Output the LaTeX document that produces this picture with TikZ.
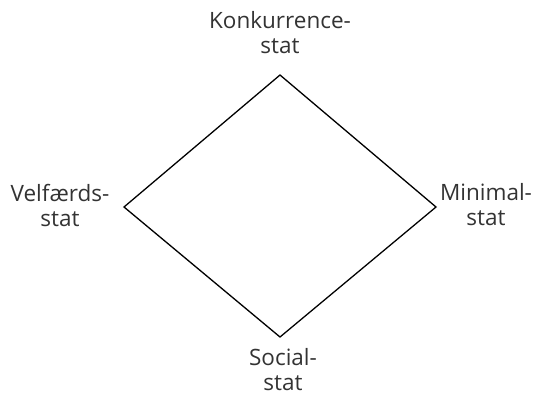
\documentclass[tikz,border=0pt]{standalone}
\usepackage{fontspec}
\setmainfont{Open Sans}
\definecolor{txtcol}{rgb}{0.2,0.2,0.2}
\begin{document}
\begin{tikzpicture}[x=1bp,y=-1bp,line join=miter,
  statlabel/.style={align=center,text=txtcol,inner sep=0pt,
    font=\fontsize{22.5bp}{25bp}\selectfont}]
  \useasboundingbox (0,0) rectangle (547,392);
  \pgfsetlinewidth{1.3bp}
%%
  % Corners of the diamond
  \coordinate (top) at (280,75);
  \coordinate (left) at (124,207);
  \coordinate (right) at (436,207);
  \coordinate (bottom) at (280,337);
  % Edges
  \draw (top) -- (right) -- (bottom) -- (left) -- cycle;
  % Node: Konkurrencestat
  \node [statlabel] (konkurrence) at (280,33) {Konkurrence-\\stat};
  % Node: Velfaerdsstat
  \node [statlabel] (velfaerd) at (60,205) {Velfærds-\\stat};
  % Node: Minimalstat
  \node [statlabel] (minimal) at (486,205) {Minimal-\\stat};
  % Node: Socialstat
  \node [statlabel] (social) at (283,370) {Social-\\stat};
%
\end{tikzpicture}
\end{document}
